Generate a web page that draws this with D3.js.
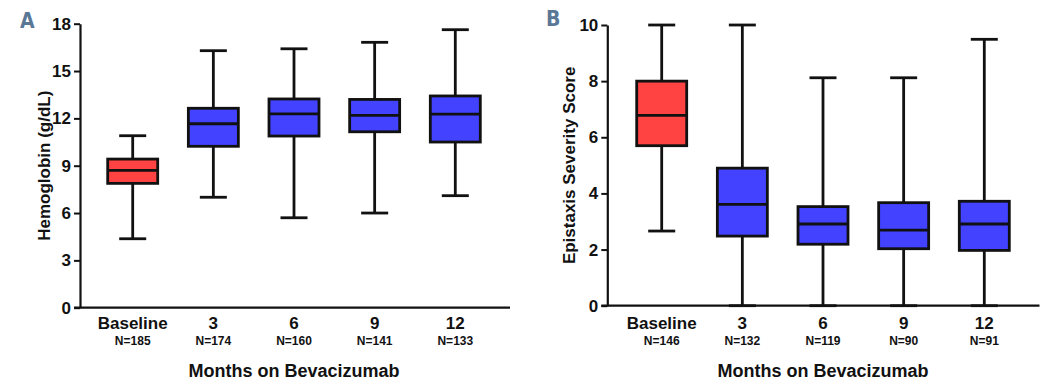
<!DOCTYPE html>
<html>
<head>
<meta charset="utf-8">
<script src="https://cdn.jsdelivr.net/npm/d3@7"></script>
<style>
  html, body { margin: 0; padding: 0; background: #fff; }
  svg { display: block; font-family: "Liberation Sans", Arial, sans-serif; }
</style>
</head>
<body>
<svg id="chart" width="1051" height="381"></svg>
<script>
// Time points (months on bevacizumab)
const categories = ["Baseline", "3", "6", "9", "12"];

// Panel A: hemoglobin (g/dL) box-and-whisker summaries
const hgbN      = [185, 174, 160, 141, 133];
const hgbMin    = [4.37, 7.0, 5.7, 6.0, 7.1];
const hgbQ1     = [7.88, 10.23, 10.88, 11.15, 10.5];
const hgbMedian = [8.71, 11.66, 12.29, 12.19, 12.27];
const hgbQ3     = [9.42, 12.64, 13.23, 13.2, 13.42];
const hgbMax    = [10.9, 16.29, 16.41, 16.82, 17.62];
const hgbTicks  = [0, 3, 6, 9, 12, 15, 18];

// Panel B: epistaxis severity score box-and-whisker summaries
const essN      = [146, 132, 119, 90, 91];
const essMin    = [2.66, 0, 0, 0, 0];
const essQ1     = [5.7, 2.48, 2.19, 2.03, 1.97];
const essMedian = [6.78, 3.61, 2.91, 2.69, 2.91];
const essQ3     = [8.0, 4.9, 3.53, 3.67, 3.72];
const essMax    = [10, 10, 8.12, 8.12, 9.49];
const essTicks  = [0, 2, 4, 6, 8, 10];

const xTitle = "Months on Bevacizumab";
const baselineColor = "#ff4242";
const followColor = "#4242ff";

function summaries(n, mn, q1, med, q3, mx) {
  return categories.map((c, i) => ({
    cat: c, n: n[i], min: mn[i], q1: q1[i], median: med[i], q3: q3[i], max: mx[i]
  }));
}

const panels = [
  {
    letter: "A", yTitle: "Hemoglobin (g/dL)",
    data: summaries(hgbN, hgbMin, hgbQ1, hgbMedian, hgbQ3, hgbMax),
    ticks: hgbTicks,
    axisX: 80, axisEnd: 510, yBottom: 307.7, yTop: 23.7,
    centers: [132.7, 455.3], letterX: 20, letterY: 28, yTitleX: 50
  },
  {
    letter: "B", yTitle: "Epistaxis Severity Score",
    data: summaries(essN, essMin, essQ1, essMedian, essQ3, essMax),
    ticks: essTicks,
    axisX: 607.3, axisEnd: 1039.5, yBottom: 305.7, yTop: 25,
    centers: [661.7, 984.3], letterX: 546, letterY: 26, yTitleX: 575
  }
];

const svg = d3.select("#chart");
const boxW = 50, capW = 27;

panels.forEach(p => {
  const g = svg.append("g");
  const y = d3.scaleLinear()
    .domain([0, d3.max(p.ticks)])
    .range([p.yBottom, p.yTop]);
  const x = d3.scalePoint()
    .domain(categories)
    .range(p.centers);

  // Panel letter
  g.append("text")
    .attr("x", p.letterX).attr("y", p.letterY)
    .attr("font-family", "'Liberation Sans Narrow', 'DejaVu Sans Condensed', sans-serif")
    .attr("font-weight", "bold").attr("font-size", 21)
    .attr("fill", "#5a7896")
    .text(p.letter);

  // Y axis
  const yAxis = g.append("g")
    .attr("transform", `translate(${p.axisX},0)`)
    .call(d3.axisLeft(y).tickValues(p.ticks).tickSize(6).tickSizeOuter(0).tickPadding(3));
  yAxis.select(".domain").attr("stroke", "#111").attr("stroke-width", 2.2);
  yAxis.selectAll(".tick line").attr("stroke", "#111").attr("stroke-width", 2);
  yAxis.selectAll(".tick text")
    .attr("font-family", "'Liberation Sans', Arial, sans-serif")
    .attr("font-size", 17).attr("font-weight", "bold").attr("fill", "#111");

  // X axis baseline
  g.append("line")
    .attr("x1", p.axisX - 6).attr("x2", p.axisEnd)
    .attr("y1", y(0)).attr("y2", y(0))
    .attr("stroke", "#111").attr("stroke-width", 2.2);

  // Y title
  g.append("text")
    .attr("transform", `translate(${p.yTitleX},${(p.yBottom + p.yTop) / 2}) rotate(-90)`)
    .attr("text-anchor", "middle")
    .attr("font-size", 17).attr("font-weight", "bold").attr("fill", "#111")
    .text(p.yTitle);

  // Boxes
  const box = g.selectAll(".box").data(p.data).join("g").attr("class", "box")
    .attr("transform", d => `translate(${x(d.cat)},0)`);

  box.append("line")
    .attr("x1", 0).attr("x2", 0)
    .attr("y1", d => y(d.max)).attr("y2", d => y(d.min))
    .attr("stroke", "#111").attr("stroke-width", 2.8);
  box.append("line")
    .attr("x1", -capW / 2).attr("x2", capW / 2)
    .attr("y1", d => y(d.max)).attr("y2", d => y(d.max))
    .attr("stroke", "#111").attr("stroke-width", 2.8);
  box.append("line")
    .attr("x1", -capW / 2).attr("x2", capW / 2)
    .attr("y1", d => y(d.min)).attr("y2", d => y(d.min))
    .attr("stroke", "#111").attr("stroke-width", 2.8);
  box.append("rect")
    .attr("x", -boxW / 2).attr("width", boxW)
    .attr("y", d => y(d.q3)).attr("height", d => y(d.q1) - y(d.q3))
    .attr("fill", (d, i) => i === 0 ? baselineColor : followColor)
    .attr("stroke", "#111").attr("stroke-width", 2.8);
  box.append("line")
    .attr("x1", -boxW / 2).attr("x2", boxW / 2)
    .attr("y1", d => y(d.median)).attr("y2", d => y(d.median))
    .attr("stroke", "#111").attr("stroke-width", 2.8);

  // Category labels and sample sizes
  box.append("text")
    .attr("y", 329).attr("text-anchor", "middle")
    .attr("font-size", 17).attr("font-weight", "bold").attr("fill", "#111")
    .text(d => d.cat);
  box.append("text")
    .attr("y", 345).attr("text-anchor", "middle")
    .attr("font-size", 12).attr("font-weight", "bold").attr("fill", "#111")
    .text(d => "N=" + d.n);

  // X title
  g.append("text")
    .attr("x", (p.centers[0] + p.centers[1]) / 2).attr("y", 377)
    .attr("text-anchor", "middle")
    .attr("font-size", 18).attr("font-weight", "bold").attr("fill", "#111")
    .text(xTitle);
});
</script>
</body>
</html>
